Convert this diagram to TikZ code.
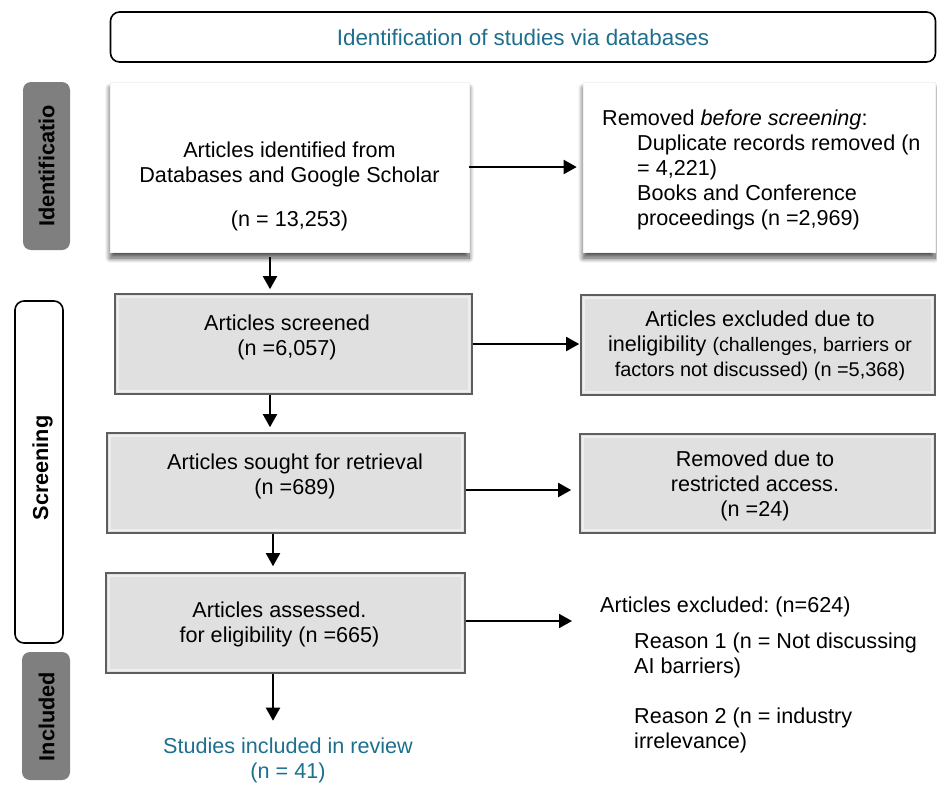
\documentclass[tikz,border=0pt]{standalone}
\usepackage{fontspec}
\setmainfont{Liberation Sans}
\usetikzlibrary{arrows.meta,shadows.blur}
\frenchspacing
\definecolor{tealtxt}{HTML}{1E6F8E}
\definecolor{lblgray}{HTML}{7F7F7F}
\definecolor{gfill}{HTML}{E0E0E0}
\definecolor{gedge}{HTML}{5E5E5E}
\definecolor{gin}{HTML}{EEEEEE}
\tikzset{
  wbox/.style={fill=white, draw=gray!10, line width=0.6pt, inner sep=0pt,
    blur shadow={shadow xshift=0pt, shadow yshift=-6pt, shadow blur radius=5pt, shadow blur steps=12, shadow opacity=70}},
  gbox/.style={fill=gfill, draw=gedge, line width=1.6pt, inner sep=0pt},
  sidelbl/.style={fill=lblgray, rounded corners=8pt, inner sep=0pt},
  sidetxt/.style={rotate=90, font=\fontsize{21.7}{25}\selectfont\bfseries, inner sep=0pt},
  txt/.style={align=center, inner sep=0pt},
  arr/.style={-{Triangle[length=13pt,width=14pt]}, line width=1.9pt, black},
}
\newcommand{\bevel}[1]{\draw[gin, line width=2.5pt] ([shift={(4,4)}]#1.north west) rectangle ([shift={(-4,-4)}]#1.south east);}
\begin{document}
\begin{tikzpicture}[x=1pt,y=-1pt, font=\fontsize{21.6}{25}\selectfont]
\useasboundingbox (0,0) rectangle (937,785);

% title
\node[draw, rounded corners=9pt, line width=1.6pt, minimum width=825pt, minimum height=50pt, inner sep=0pt,
      text=tealtxt, font=\fontsize{22.4}{26}\selectfont] (title) at (523,37) {Identification of studies via databases};

% side labels
\node[sidelbl, minimum width=47pt, minimum height=168pt] (sid) at (46.5,166) {};
\node[sidetxt] (sidt) at (46.5,166) {Identificatio};
\node[draw, rounded corners=9pt, line width=1.6pt, minimum width=48pt, minimum height=342pt, inner sep=0pt] (scr) at (39,472) {};
\node[sidetxt] (scrt) at (42.5,468) {Screening};
\node[sidelbl, minimum width=48pt, minimum height=128pt] (inc) at (46,716) {};
\node[sidetxt] (inct) at (46.5,716.5) {Included};

% row 1
\node[wbox, minimum width=359pt, minimum height=170pt] (b1) at (289.5,167) {};
\node[txt] (t1) at (289.5,186.5) {Articles identified from\\Databases and Google Scholar\\[19pt](n = 13,253)};
\node[wbox, minimum width=352pt, minimum height=170pt] (b2) at (759,167) {};
\node[align=left, inner sep=0pt, anchor=north west] (t2) at (602,109.5) {Removed \textit{before screening}:\\
\hspace*{35pt}Duplicate records removed (n\\
\hspace*{35pt}= 4,221)\\
\hspace*{35pt}Books and Conference\\
\hspace*{35pt}proceedings (n =2,969)};

% row 2
\node[gbox, minimum width=357pt, minimum height=100pt] (b3) at (293.5,344) {};
\bevel{b3}
\node[txt] (t3) at (287,337.5) {Articles screened\\(n =6,057)};
\node[gbox, minimum width=354pt, minimum height=100pt] (b4) at (758,345) {};
\bevel{b4}
\node[txt] (t4) at (760,346) {Articles excluded due to\\ineligibility {\fontsize{19.5}{25}\selectfont(challenges, barriers or}\\{\fontsize{19.9}{25}\selectfont factors not discussed) (n =5,368)}};

% row 3
\node[gbox, minimum width=358pt, minimum height=100pt] (b5) at (286,483) {};
\bevel{b5}
\node[txt] (t5) at (295,476) {Articles sought for retrieval\\(n =689)};
\node[gbox, minimum width=355pt, minimum height=99pt] (b6) at (757.5,483.5) {};
\bevel{b6}
\node[txt] (t6) at (755,486) {Removed due to\\restricted access.\\(n =24)};

% row 4
\node[gbox, minimum width=359pt, minimum height=100pt] (b7) at (285.5,623) {};
\bevel{b7}
\node[txt] (t7) at (279.5,624) {Articles assessed.\\for eligibility (n =665)};
\node[align=left, inner sep=0pt, anchor=north west] (t8) at (600,596.5) {Articles excluded: (n=624)\\[11pt]
\hspace*{34pt}Reason 1 (n = Not discussing\\
\hspace*{34pt}AI barriers)\\[25pt]
\hspace*{34pt}Reason 2 (n = industry\\
\hspace*{34pt}irrelevance)};

% included
\node[txt, text=tealtxt] (t9) at (288,760.5) {Studies included in review\\(n = 41)};

% arrows
\coordinate (xa) at (270,0);
\coordinate (xb) at (273,0);
\coordinate (ya) at (0,490);
\coordinate (e7) at (572,621);
\draw[arr] (b1.east) -- ([xshift=-6pt]b2.west);
\draw[arr, shorten <=5pt, shorten >=4pt] (xa |- b1.south) -- (xa |- b3.north);
\draw[arr] (b3.east) -- ([xshift=-1pt]b4.west |- b3.east);
\draw[arr, shorten >=5pt] (xa |- b3.south) -- (xa |- b5.north);
\draw[arr, shorten >=8pt] (b5.east |- ya) -- (b6.west |- ya);
\draw[arr, shorten >=6pt] (xb |- b5.south) -- (xb |- b7.north);
\draw[arr] (b7.east |- e7) -- (e7);
\draw[arr, shorten >=17pt] (xb |- b7.south) -- (xb |- t9.north);
\end{tikzpicture}
\end{document}
